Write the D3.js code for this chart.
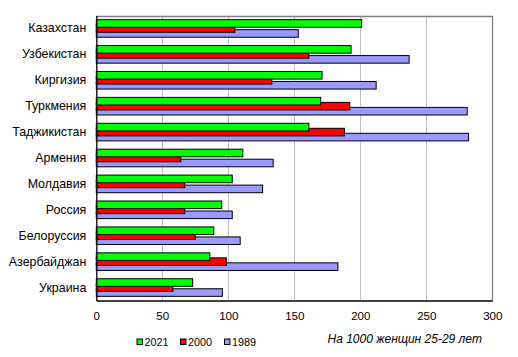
<!DOCTYPE html>
<html><head><meta charset="utf-8">
<script src="https://cdn.jsdelivr.net/npm/d3@7"></script>
<style>body{margin:0;background:#fff}svg{display:block}text{font-family:"Liberation Sans",Arial,sans-serif;fill:#000}</style>
</head><body><svg id="c" width="518" height="357"></svg>
<script>
const categories = ["Казахстан","Узбекистан","Киргизия","Туркмения","Таджикистан","Армения","Молдавия","Россия","Белоруссия","Азербайджан","Украина"];
const s2021 = [201,193,171,170,161,111,103,95,89,86,73];
const s2000 = [105,161,133,192,188,64,67,67,75,98.5,58];
const s1989 = [153,237,212,281,282,134,126,103,109,183,95.5];
const seriesNames = ["2021","2000","1989"];
const seriesColors = ["#00ff00","#ff0000","#9999ff"];
const xTicks = [0,50,100,150,200,250,300];
const note = "На 1000 женщин 25-29 лет";

const svg = d3.select("#c");
const L = 96.3, R = 492.3, T = 15.5, B = 300.5;
const x = d3.scaleLinear().domain([0,300]).range([L,R]);
const y = d3.scaleBand().domain(categories).range([T,B]).padding(0);
const bw = y.bandwidth();
const barH = 7.6, step = 5;
const groupH = barH + 2*step;

// gridlines
svg.append("g").selectAll("line").data(xTicks.filter(t=>t>0 && t<300)).join("line")
  .attr("x1",d=>Math.round(x(d))+0.5).attr("x2",d=>Math.round(x(d))+0.5)
  .attr("y1",T).attr("y2",B).attr("stroke","#c0c0c0").attr("stroke-width",1);
// plot border top/right
svg.append("path").attr("d",`M${L},${Math.round(T)+0.5}H${Math.round(R)+0.5}V${B}`).attr("fill","none").attr("stroke","#808080").attr("stroke-width",1.3);

const series = [s2021,s2000,s1989];
// draw in reverse order: 1989 first, then 2000, then 2021
for (let k=2;k>=0;k--){
  svg.append("g").selectAll("rect").data(series[k]).join("rect")
    .attr("x",x(0))
    .attr("y",(d,i)=>y(categories[i]) + (bw-groupH)/2 + k*step)
    .attr("width",d=>x(d)-x(0))
    .attr("height",barH)
    .attr("fill",seriesColors[k]).attr("stroke","#000").attr("stroke-width",1);
}

// axes
const xa = svg.append("g").attr("transform",`translate(0,${B})`)
  .call(d3.axisBottom(x).tickValues(xTicks).tickSize(0).tickPadding(11));
xa.select(".domain").attr("stroke","#000").attr("stroke-width",1.3);
xa.selectAll("text").attr("font-size","11.6px").attr("font-family","Liberation Sans, Arial, sans-serif");

const ya = svg.append("g").attr("transform",`translate(${L},0)`)
  .call(d3.axisLeft(y).tickSize(0).tickPadding(10));
ya.select(".domain").attr("stroke","#000").attr("stroke-width",1.3);
ya.selectAll("text").attr("font-size","12.4px").attr("font-family","Liberation Sans, Arial, sans-serif");

// legend
const lx = [137,180.5,224.5];
const lg = svg.append("g");
seriesNames.forEach((n,i)=>{
  lg.append("rect").attr("x",lx[i]).attr("y",339).attr("width",5.5).attr("height",5.5)
    .attr("fill",seriesColors[i]).attr("stroke","#000").attr("stroke-width",1);
  lg.append("text").attr("x",lx[i]+7.5).attr("y",345.5).attr("font-size","10.8px").text(n);
});
svg.append("text").attr("x",327.5).attr("y",343).attr("font-size","12px").attr("font-style","italic").text(note);
</script></body></html>
